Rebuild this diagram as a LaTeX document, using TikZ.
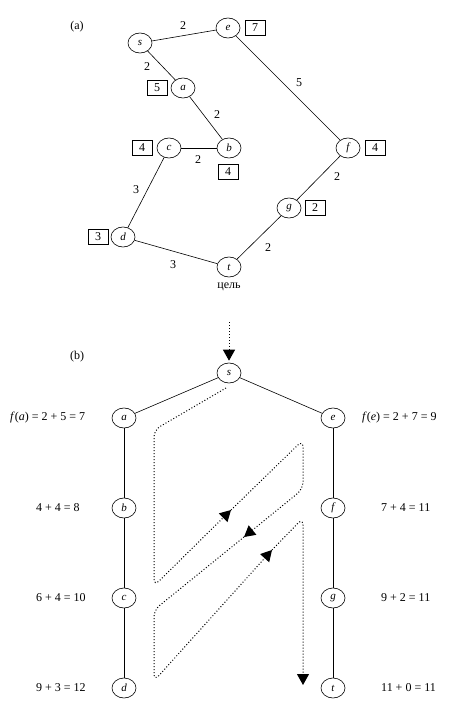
\documentclass[tikz,border=0pt]{standalone}
\usepackage{fontspec}
\setmainfont{Liberation Serif}
\usetikzlibrary{shapes.geometric,arrows.meta}
\begin{document}
\begin{tikzpicture}[x=1pt,y=-1pt,
  vtx/.style={draw,ellipse,minimum width=24pt,minimum height=20pt,inner sep=0pt,line width=0.6pt,font=\itshape\fontsize{11}{12}\selectfont},
  hbox/.style={draw,minimum width=20pt,minimum height=15pt,inner sep=0pt,line width=0.6pt,font=\fontsize{12}{13}\selectfont},
  elab/.style={inner sep=0pt,font=\fontsize{12}{13}\selectfont},
  lnk/.style={line width=0.6pt},
  trail/.style={line width=1pt,dash pattern=on 1pt off 2pt,rounded corners=7pt},
  arr/.style={-{Triangle[length=11pt,width=12pt]}}
]
\useasboundingbox (0,0) rectangle (461,712);

% ---------- (a) ----------
\node[elab] (la) at (77,27) {(a)};
\node[vtx] (s1) at (140,43) {s};
\node[vtx] (e1) at (228,28) {e};
\node[vtx] (a1) at (183,88) {a};
\node[vtx] (b1) at (229,148) {b};
\node[vtx] (c1) at (169,148) {c};
\node[vtx] (f1) at (348,148) {f};
\node[vtx] (g1) at (289,208) {g};
\node[vtx] (d1) at (123,237) {d};
\node[vtx] (t1) at (229,267) {t};
\node[elab] (goal) at (229,287) {цель};

\node[hbox] (he) at (255,28) {7};
\node[hbox] (ha) at (157,88) {5};
\node[hbox] (hc) at (142,148) {4};
\node[hbox] (hb) at (228,172) {4};
\node[hbox] (hf) at (375,148) {4};
\node[hbox] (hg) at (315,208) {2};
\node[hbox] (hd) at (98,237) {3};

\draw[lnk] (s1) -- (e1);
\draw[lnk] (s1) -- (a1);
\draw[lnk] (a1) -- (b1);
\draw[lnk] (c1) -- (b1);
\draw[lnk] (e1) -- (f1);
\draw[lnk] (c1) -- (d1);
\draw[lnk] (f1) -- (g1);
\draw[lnk] (g1) -- (t1);
\draw[lnk] (d1) -- (t1);

\node[elab] (w1) at (183,26) {2};
\node[elab] (w2) at (147,67) {2};
\node[elab] (w3) at (217,115) {2};
\node[elab] (w4) at (299,83) {5};
\node[elab] (w5) at (198,160) {2};
\node[elab] (w6) at (136,190) {3};
\node[elab] (w7) at (337,177) {2};
\node[elab] (w8) at (268,248) {2};
\node[elab] (w9) at (173,265) {3};

% ---------- (b) ----------
\node[elab] (lb) at (77,357) {(b)};
\node[vtx] (s2) at (229,373) {s};
\node[vtx] (a2) at (124,418) {a};
\node[vtx] (b2) at (124,508) {b};
\node[vtx] (c2) at (124,598) {c};
\node[vtx] (d2) at (124,688) {d};
\node[vtx] (e2) at (333,418) {e};
\node[vtx] (f2) at (333,508) {f};
\node[vtx] (g2) at (333,598) {g};
\node[vtx] (t2) at (333,688) {t};

\draw[lnk] (s2) -- (a2);
\draw[lnk] (s2) -- (e2);
\draw[lnk] (a2) -- (b2) -- (c2) -- (d2);
\draw[lnk] (e2) -- (f2) -- (g2) -- (t2);

\node[elab,anchor=west] (fa) at (10,418) {\textit{f}(\textit{a}) = 2 + 5 = 7};
\node[elab,anchor=west] (fb) at (36,508) {4 + 4 = 8};
\node[elab,anchor=west] (fc) at (36,598) {6 + 4 = 10};
\node[elab,anchor=west] (fd) at (36,688) {9 + 3 = 12};
\node[elab,anchor=west] (fe) at (362,418) {\textit{f}(\textit{e}) = 2 + 7 = 9};
\node[elab,anchor=west] (ff) at (381,508) {7 + 4 = 11};
\node[elab,anchor=west] (fg) at (381,598) {9 + 2 = 11};
\node[elab,anchor=west] (ft) at (381,688) {11 + 0 = 11};

% dotted search trace
\coordinate (top) at (229,322);
\coordinate (p0) at (226,388);
\coordinate (q1) at (154,430);
\coordinate (q2) at (154,586);
\coordinate (m1) at (231,510);
\coordinate (q3) at (303,440);
\coordinate (q4) at (303,489);
\coordinate (m2) at (244,537);
\coordinate (q5) at (154,610);
\coordinate (q6) at (154,681);
\coordinate (m3) at (272,550);
\coordinate (q7) at (303,518);
\coordinate (end) at (303,685);

\draw[trail,arr,shorten >=2pt] (top) -- (s2);
\draw[trail,arr] (p0) -- (q1) -- (q2) -- (m1);
\draw[trail,arr] (m1) -- (q3) -- (q4) -- (m2);
\draw[trail,arr] (m2) -- (q5) -- (q6) -- (m3);
\draw[trail,arr] (m3) -- (q7) -- (end);
\end{tikzpicture}
\end{document}
